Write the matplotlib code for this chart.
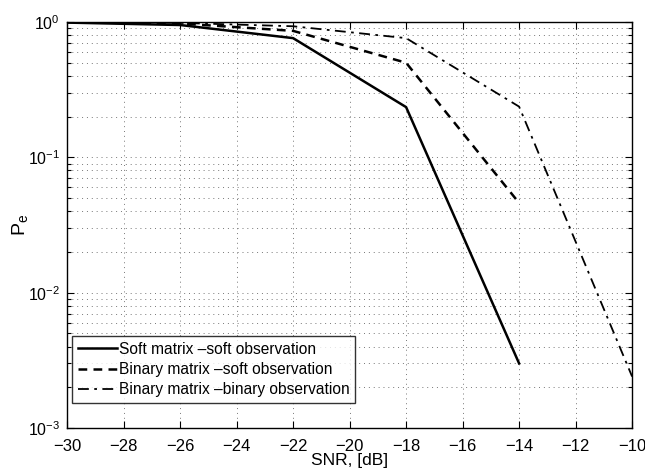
import matplotlib
matplotlib.use("Agg")
import matplotlib.pyplot as plt
from matplotlib.ticker import LogLocator, NullFormatter, FixedLocator

plt.rcParams['font.family'] = ['Liberation Sans', 'DejaVu Sans']
plt.rcParams['mathtext.fontset'] = 'custom'
plt.rcParams['mathtext.rm'] = 'Liberation Sans'
plt.rcParams['mathtext.it'] = 'Liberation Sans'

snr_soft = [-30, -26, -22, -18, -14]
pe_soft = [0.99, 0.95, 0.76, 0.235, 0.003]
snr_bsoft = [-30, -26, -22, -18, -14]
pe_bsoft = [1.0, 0.975, 0.86, 0.50, 0.046]
snr_bbin = [-30, -26, -22, -18, -14, -10]
pe_bbin = [1.0, 0.985, 0.93, 0.76, 0.237, 0.0024]
labels = ["Soft matrix \u2013soft observation",
          "Binary matrix \u2013soft observation",
          "Binary matrix \u2013binary observation"]
xticks = list(range(-30, -9, 2))
yticks = [1e-3, 1e-2, 1e-1, 1]
ytick_labels = ["$10^{\u22123}$", "$10^{\u22122}$", "$10^{\u22121}$", "$10^{0}$"]

fig = plt.figure(figsize=(6.45, 4.71), dpi=100)
ax = fig.add_axes([0.104, 0.0913, 0.876, 0.862])

ax.plot(snr_soft, pe_soft, color='black', lw=1.8, linestyle='-', label=labels[0])
ax.plot(snr_bsoft, pe_bsoft, color='black', lw=1.8, linestyle=(0, (3.5, 2.5)), label=labels[1])
ax.plot(snr_bbin, pe_bbin, color='black', lw=1.3, linestyle=(0, (6, 3, 1.5, 3)), label=labels[2])

ax.set_yscale('log')
ax.set_xlim(-30, -10)
ax.set_ylim(1e-3, 1)
ax.xaxis.set_major_locator(FixedLocator(xticks))
ax.set_xticklabels([f"\u2212{abs(t)}" for t in xticks])
ax.set_yticks(yticks)
ax.set_yticklabels(ytick_labels)
ax.yaxis.set_minor_locator(LogLocator(base=10, subs=range(2, 10), numticks=10))
ax.yaxis.set_minor_formatter(NullFormatter())

ax.grid(True, which='major', axis='both', linestyle=(0, (1, 4)), color='#777777', lw=0.7)
ax.grid(True, which='minor', axis='y', linestyle=(0, (1, 4)), color='#777777', lw=0.7)
ax.tick_params(which='both', direction='in', top=True, right=True, length=5, width=0.8)
ax.tick_params(axis='x', which='major', pad=8, labelsize=12)
ax.tick_params(axis='y', which='major', pad=5, labelsize=11.5)
ax.tick_params(which='minor', length=3)
for s in ax.spines.values():
    s.set_linewidth(1.0)

ax.set_xlabel("SNR, [dB]", fontsize=12.5, labelpad=-1)
ax.set_ylabel("P$_\\mathregular{e}$", fontsize=14)
ax.yaxis.set_label_coords(-0.066, 0.5)

leg = ax.legend(loc='lower left', bbox_to_anchor=(0.004, 0.055), fontsize=11.2, frameon=True,
                fancybox=False, edgecolor='black', handlelength=2.5, handletextpad=0.15,
                borderpad=0.35, labelspacing=0.33, borderaxespad=0.2)
leg.get_frame().set_linewidth(1.0)

fig.savefig("out.png", dpi=100)
